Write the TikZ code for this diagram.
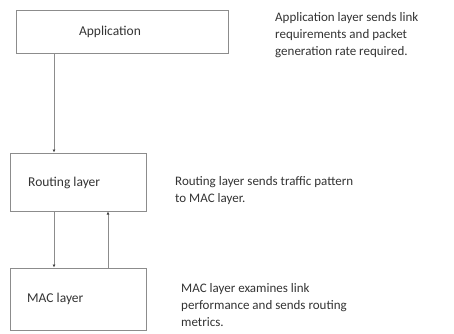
\documentclass[tikz,border=0pt]{standalone}
\usepackage{fontspec}
\setmainfont{Carlito}
\usetikzlibrary{arrows.meta}
\begin{document}
\begin{tikzpicture}[x=1pt,y=-1pt,
  layerbox/.style={draw=black!45,line width=1pt,inner sep=0pt},
  lbl/.style={font=\fontsize{13.5}{17}\selectfont,text=black!80,inner sep=0pt},
  note/.style={font=\fontsize{13}{17}\selectfont,text=black!80,inner sep=0pt,align=left,anchor=west},
  arr/.style={draw=black!45,line width=0.9pt,-{Latex[length=3pt,width=3pt,black!75]}}]
\useasboundingbox (0,0) rectangle (454,333);
\node[layerbox,minimum width=212pt,minimum height=43pt] (app) at (122,31.5) {};
\node[layerbox,minimum width=136pt,minimum height=58pt] (rout) at (78,182) {};
\node[layerbox,minimum width=136pt,minimum height=62pt] (mac) at (78,299) {};
\node[lbl] (tapp) at (110,32) {Application};
\node[lbl,anchor=west] (trout) at (28,183) {Routing layer};
\node[lbl,anchor=west] (tmac) at (27,299) {MAC layer};
\node[note] (n1) at (275,35.5) {Application layer sends link\\requirements and packet\\generation rate required.};
\node[note] (n2) at (175,191) {Routing layer sends traffic pattern\\to MAC layer.};
\node[note] (n3) at (181,305) {MAC layer examines link\\performance and sends routing\\metrics.};
\coordinate (c1) at (54,0);
\coordinate (c2) at (108,0);
\draw[arr] (app.south -| c1) -- (rout.north -| c1);
\draw[arr] (rout.south -| c1) -- (mac.north -| c1);
\draw[arr] (mac.north -| c2) -- (rout.south -| c2);
\end{tikzpicture}
\end{document}
